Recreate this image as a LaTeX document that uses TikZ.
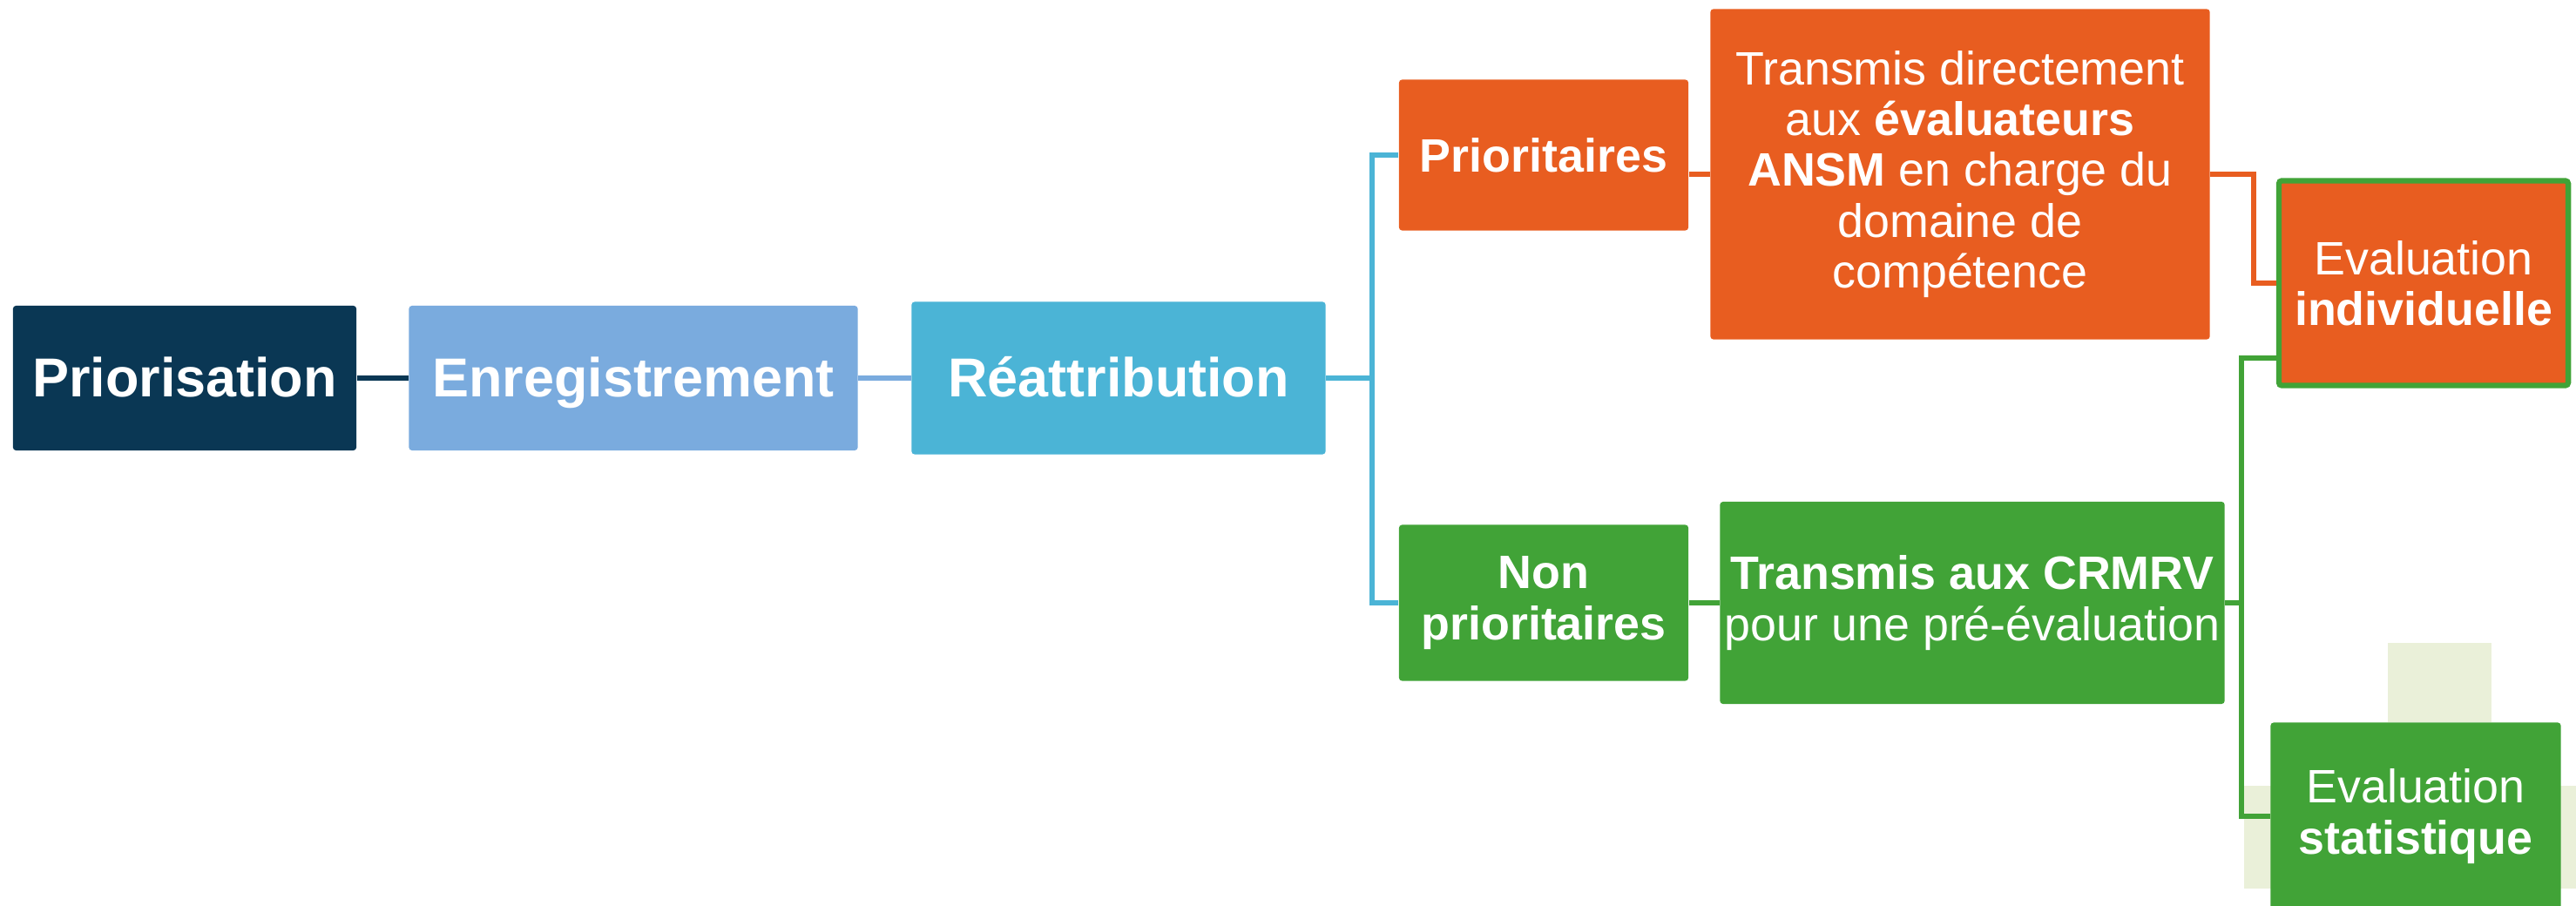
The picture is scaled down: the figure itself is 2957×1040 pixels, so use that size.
\documentclass[tikz,border=0pt]{standalone}
\usepackage{fontspec}
\setmainfont{Liberation Sans}
\usetikzlibrary{positioning}

\definecolor{navy}{HTML}{0A3754}
\definecolor{skyblue}{HTML}{7AABDE}
\definecolor{cyanblue}{HTML}{4BB4D6}
\definecolor{rouille}{HTML}{E85D20}
\definecolor{vert}{HTML}{41A337}
\definecolor{pale}{HTML}{EAF0D9}

\begin{document}
\begin{tikzpicture}[x=0.01cm,y=-0.01cm,
  stepbox/.style={rectangle,rounded corners=1pt,fill=#1,text=white,inner sep=0pt,align=center},
  bigtxt/.style={font=\fontsize{17.9}{20}\selectfont\bfseries,text height=16pt,text depth=4pt},
  smalltxt/.style={font=\fontsize{15.3}{16.6}\selectfont},
  boldtxt/.style={font=\fontsize{15.3}{16.6}\selectfont\bfseries},
  link/.style={draw=#1,line width=1.8pt},
]
\useasboundingbox (0,0) rectangle (2957,1040);

% === background shapes ===
\fill[pale] (2741,738) rectangle (2860,829);
\fill[pale] (2576,902) rectangle (2957,1020);

% === MAIN CHAIN ===
\node[stepbox=navy,bigtxt,minimum width=3.94cm,minimum height=1.66cm] (prio) at (212,434) {Priorisation};
\node[stepbox=skyblue,bigtxt,minimum width=5.15cm,minimum height=1.66cm] (enreg) at (727,434) {Enregistrement};
\node[stepbox=cyanblue,bigtxt,minimum width=4.75cm,minimum height=1.75cm] (reattr) at (1284,434) {Réattribution};

\draw[link=navy] (prio) -- (enreg);
\draw[link=skyblue] (enreg) -- (reattr);

% === SPLIT: prioritaires / non prioritaires ===
\node[stepbox=rouille,boldtxt,minimum width=3.32cm,minimum height=1.73cm] (prior) at (1772,178) {Prioritaires};
\node[stepbox=vert,boldtxt,minimum width=3.32cm,minimum height=1.79cm] (nonprior) at (1772,692) {Non\\prioritaires};

\coordinate (split) at (1575,434);
\draw[link=cyanblue] (reattr.east) -- (split);
\draw[link=cyanblue] (prior.west) -| (split);
\draw[link=cyanblue] (nonprior.west) -| (split);

% === TRANSMISSION ===
\node[stepbox=rouille,smalltxt,minimum width=5.73cm,minimum height=3.79cm] (direct) at (2250,200) {Transmis directement\\aux \textbf{évaluateurs}\\\textbf{ANSM} en charge du\\domaine de\\compétence};
\node[stepbox=vert,smalltxt,minimum width=5.79cm,minimum height=2.32cm] (crmrv) at (2264,692) {\textbf{Transmis aux CRMRV}\\pour une pré-évaluation};

\draw[link=rouille] (direct.west) -- (direct.west -| prior.east);
\draw[link=vert] (nonprior.east) -- (nonprior.east -| crmrv.west);

% === EVALUATION ===
\node[stepbox=rouille,smalltxt,draw=vert,line width=1.8pt,minimum width=3.32cm,minimum height=2.35cm] (indiv) at (2782,325) {Evaluation\\\textbf{individuelle}};
\node[stepbox=vert,smalltxt,minimum width=3.33cm,minimum height=2.15cm] (stat) at (2773,937) {Evaluation\\\textbf{statistique}};

\coordinate (bendA) at (2587,200);
\coordinate (bendB) at (2573,411);
\draw[link=rouille] (direct.east) -- (bendA) |- (indiv.west);
\draw[link=vert] (crmrv.east) -- (crmrv.east -| bendB);
\draw[link=vert] (indiv.west |- bendB) -- (bendB) |- (stat.west);

\end{tikzpicture}
\end{document}
